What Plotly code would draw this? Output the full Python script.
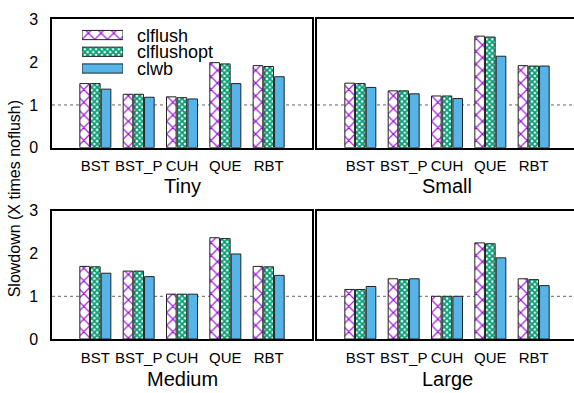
import plotly.graph_objects as go

benchmarks = ["BST", "BST_P", "CUH", "QUE", "RBT"]
series_names = ["clflush", "clflushopt", "clwb"]
panel_names = ["Tiny", "Small", "Medium", "Large"]

tiny_clflush = [1.50, 1.25, 1.19, 1.99, 1.92]
tiny_clflushopt = [1.50, 1.25, 1.17, 1.96, 1.90]
tiny_clwb = [1.37, 1.18, 1.14, 1.50, 1.66]

small_clflush = [1.51, 1.33, 1.21, 2.61, 1.92]
small_clflushopt = [1.50, 1.33, 1.21, 2.59, 1.91]
small_clwb = [1.41, 1.26, 1.15, 2.14, 1.91]

medium_clflush = [1.70, 1.59, 1.05, 2.37, 1.70]
medium_clflushopt = [1.69, 1.59, 1.05, 2.35, 1.69]
medium_clwb = [1.54, 1.46, 1.05, 1.99, 1.49]

large_clflush = [1.16, 1.41, 1.00, 2.25, 1.41]
large_clflushopt = [1.16, 1.39, 1.00, 2.23, 1.39]
large_clwb = [1.23, 1.41, 1.00, 1.90, 1.25]

y_tick_vals = [0, 1, 2, 3]
y_title = "Slowdown (X times noflush)"

panels = [
    [tiny_clflush, tiny_clflushopt, tiny_clwb],
    [small_clflush, small_clflushopt, small_clwb],
    [medium_clflush, medium_clflushopt, medium_clwb],
    [large_clflush, large_clflushopt, large_clwb],
]

W, H = 574, 393
FONT = "Liberation Sans, Arial, sans-serif"

PURPLE = "#9400D3"
GREEN = "#009E73"
BLUE = "#56B4E9"

def style(s):
    if s == 0:
        return dict(color="white", pattern=dict(shape="x", fgcolor=PURPLE, bgcolor="white",
                                                size=9, solidity=0.25, fgopacity=1))
    if s == 1:
        return dict(color="white", pattern=dict(shape="x", fgcolor=GREEN, bgcolor="white",
                                                size=4, solidity=0.7, fgopacity=1))
    return dict(color=BLUE)

def px_x(p):
    return p / W

def px_y(p):
    return 1 - p / H

# panel pixel boxes: (left, right, top, bottom)
boxes = [
    (52, 312, 12, 146),
    (317, 574, 12, 146),
    (52, 312, 212, 346),
    (317, 574, 212, 346),
]

fig = go.Figure()
layout = dict(
    width=W, height=H,
    margin=dict(l=0, r=0, t=0, b=0),
    paper_bgcolor="white", plot_bgcolor="white",
    barmode="group", bargap=0.26, bargroupgap=0.1,
    showlegend=False,
    font=dict(family=FONT, color="black"),
)

shapes = []
annotations = []
for i, (vals, box) in enumerate(zip(panels, boxes)):
    n = "" if i == 0 else str(i + 1)
    xa, ya = "x" + n, "y" + n
    for s, name in enumerate(series_names):
        fig.add_trace(go.Bar(
            x=benchmarks, y=vals[s], name=name, xaxis=xa, yaxis=ya,
            marker=dict(line=dict(color="#222222", width=1), **style(s)),
            offsetgroup=str(s),
        ))
    l, r, t, b = box
    right_panel = i % 2 == 1
    xmax = 5 if not right_panel else -1 + 6 * (r - l) / 260.0
    layout["xaxis" + n] = dict(
        domain=[px_x(l), px_x(r)], anchor=ya, type="category",
        range=[-1, xmax], showline=True, linecolor="black", linewidth=1.5,
        mirror=True, showgrid=False, zeroline=False, ticks="",
        tickfont=dict(size=15, family=FONT), ticklabelstandoff=4,
    )
    layout["yaxis" + n] = dict(
        domain=[px_y(b), px_y(t)], anchor=xa, range=[0, 3],
        tickvals=y_tick_vals, showticklabels=not right_panel,
        showline=True, linecolor="black", linewidth=1.5, mirror=not right_panel,
        showgrid=False, zeroline=False, ticks="",
        tickfont=dict(size=16, family=FONT), ticklabelstandoff=9,
    )
    shapes.append(dict(type="line", xref=xa + " domain", yref=ya, x0=0, x1=1,
                       y0=1, y1=1, layer="below",
                       line=dict(color="#666666", width=1, dash="dot")))
    annotations.append(dict(text=panel_names[i], xref="paper", yref="paper",
                            x=px_x((l + (l + 260)) / 2),
                            y=px_y(b + (40 if i < 2 else 42)),
                            showarrow=False, xanchor="center", yanchor="middle",
                            font=dict(size=20, family=FONT)))

# Legend drawn as large patterned swatches on a helper axis
for s, name in enumerate(series_names):
    fig.add_trace(go.Bar(
        y=[name], x=[1], orientation="h", xaxis="x5", yaxis="y5",
        width=0.55, offset=-0.275, hoverinfo="skip",
        marker=dict(line=dict(color="#222222", width=1), **style(s)),
    ))
layout["xaxis5"] = dict(domain=[px_x(82), px_x(123)], anchor="y5", range=[0, 1],
                        visible=False, fixedrange=True)
layout["yaxis5"] = dict(domain=[px_y(72), px_y(19.5)], anchor="x5", type="category",
                        categoryorder="array", categoryarray=series_names,
                        range=[2.5, -0.5], visible=False, fixedrange=True)
for k, name in enumerate(series_names):
    annotations.append(dict(text=name, xref="paper", yref="paper",
                            x=px_x(135), y=px_y(29 + 17.5 * k), showarrow=False,
                            xanchor="left", yanchor="middle",
                            font=dict(size=18, family=FONT)))

annotations.append(dict(text=y_title, xref="paper", yref="paper",
                        x=px_x(14), y=px_y(200), textangle=-90, showarrow=False,
                        xanchor="center", yanchor="middle",
                        font=dict(size=16, family=FONT)))

layout["shapes"] = shapes
layout["annotations"] = annotations
fig.update_layout(**layout)
fig.write_html("out.html", config={"displayModeBar": False},
               post_script="document.body.style.margin='0px';document.body.style.overflow='hidden';")
